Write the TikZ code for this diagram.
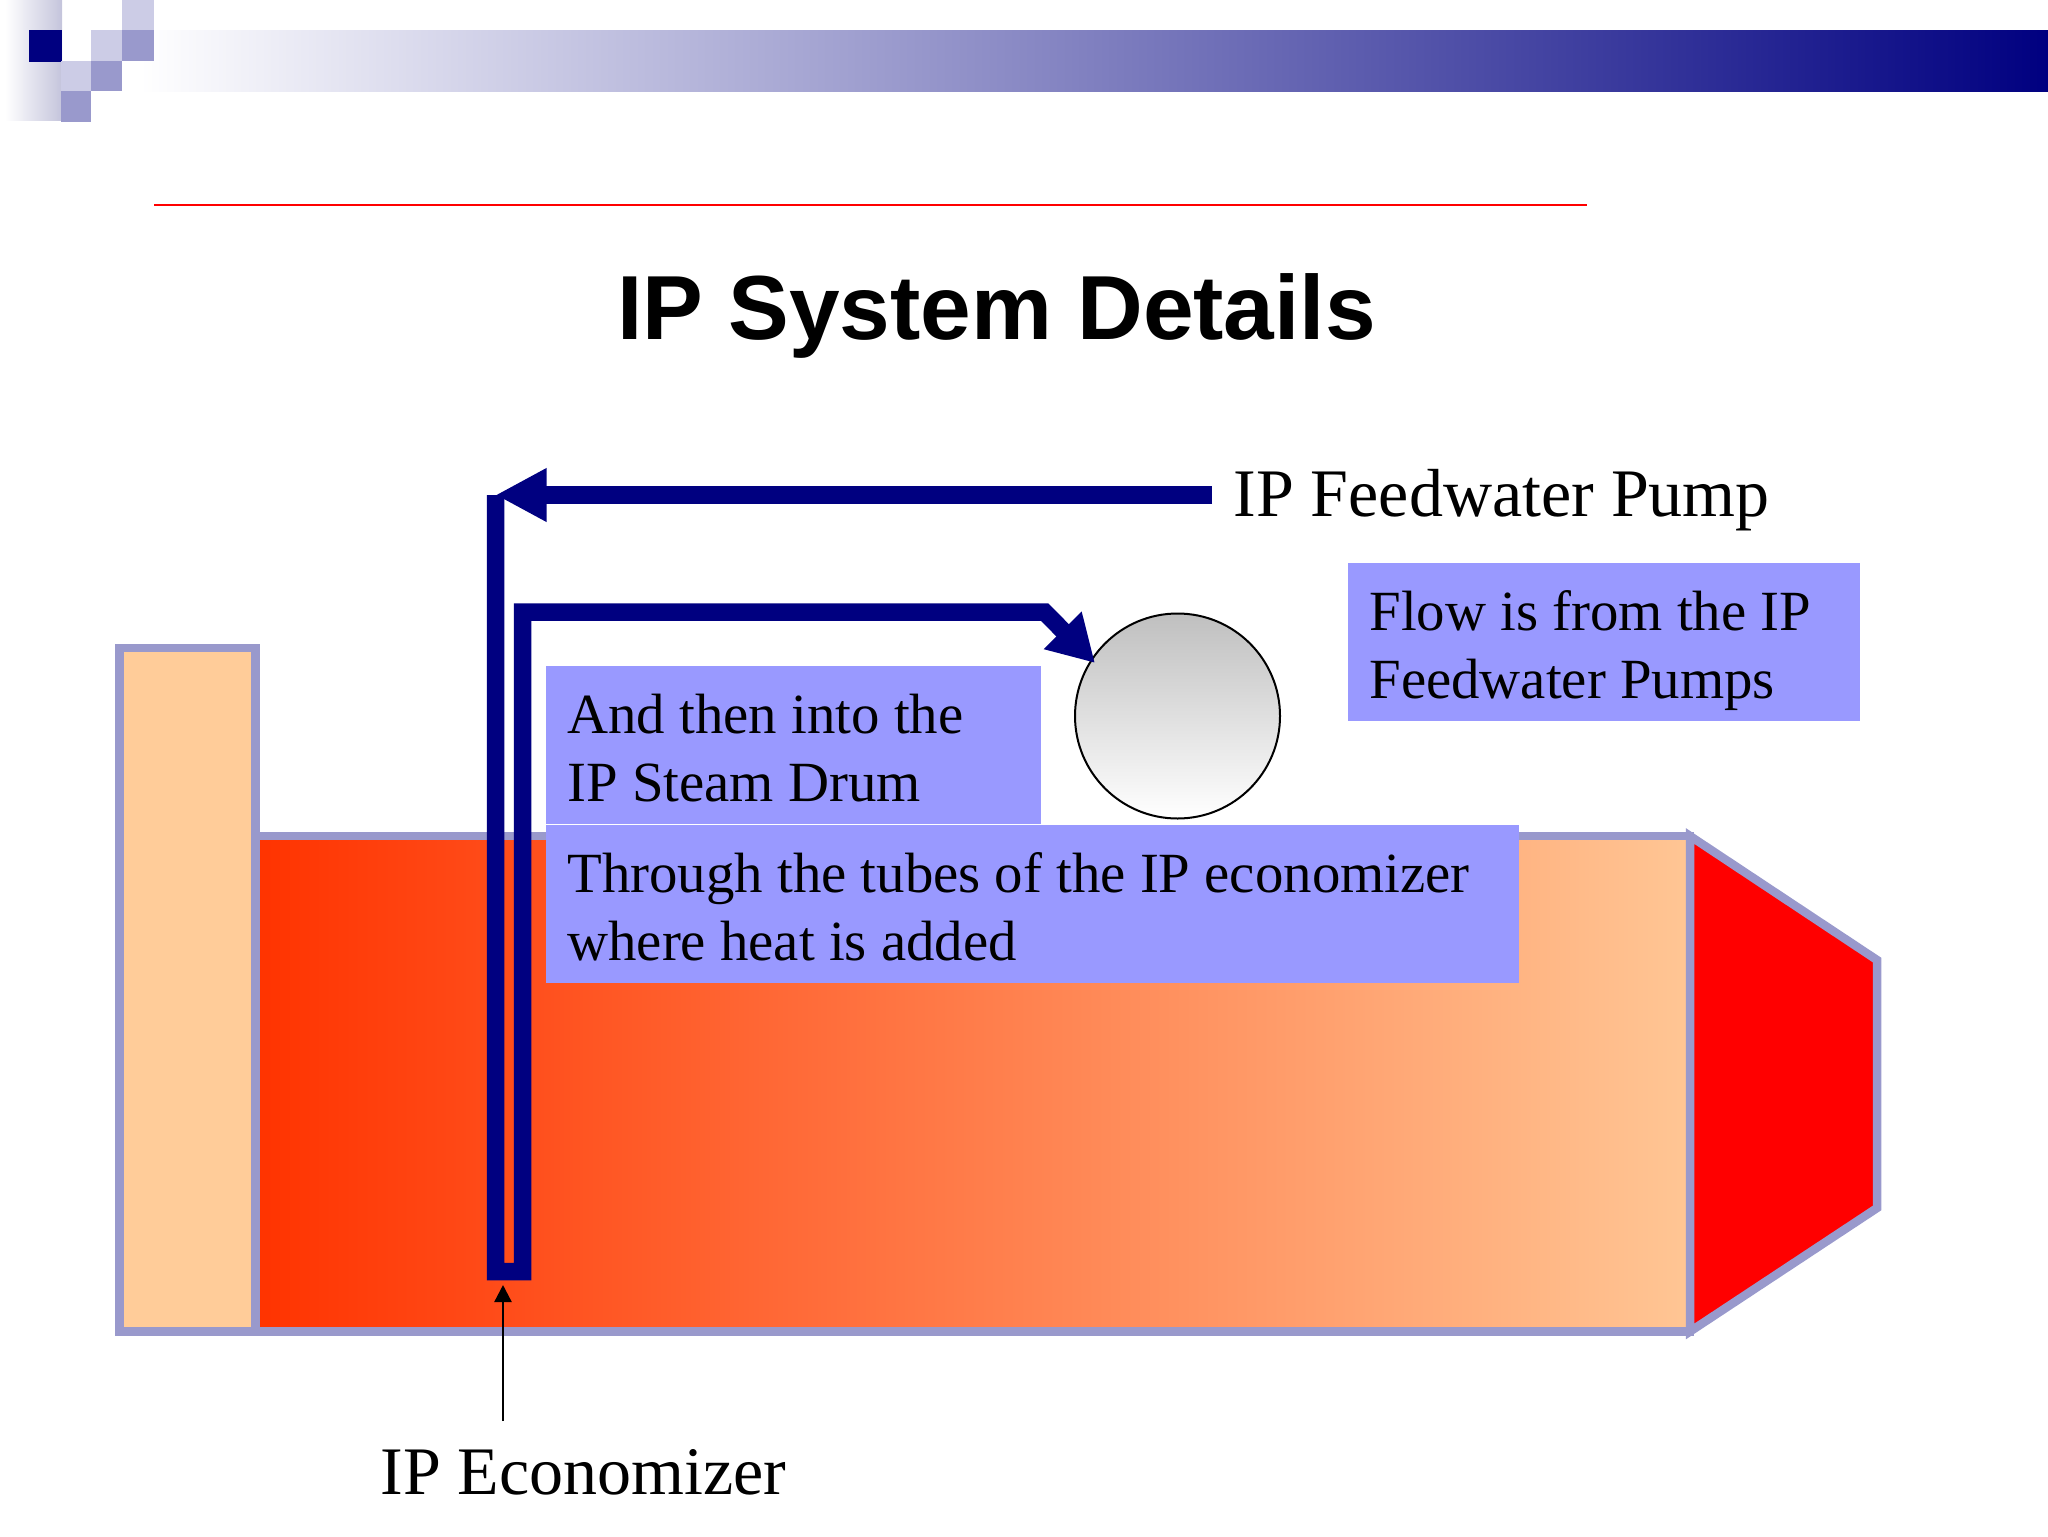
\documentclass[tikz,border=0pt]{standalone}
\usepackage{fontspec}
\setmainfont{Liberation Serif}
\setsansfont{Liberation Sans}
\usetikzlibrary{arrows.meta,shapes.geometric}
\definecolor{navyc}{HTML}{000080}
\definecolor{lav}{HTML}{CCCCE6}
\definecolor{lavd}{HTML}{9999CC}
\definecolor{boxc}{HTML}{9999FF}
\definecolor{peach}{HTML}{FFCC99}
\definecolor{hot}{HTML}{FF3300}
\newcommand{\boxtext}[2]{\spaceskip=0pt\xspaceskip=0pt\rule{0pt}{33.5pt}#1\\#2\rule[-11.5pt]{0pt}{11.5pt}}
\tikzset{
  sq/.style={fill=#1,draw=none},
  casing/.style={draw=lavd,line width=4.25pt,line join=miter,miter limit=10},
  pipe/.style={draw=navyc,line width=8.75pt,line join=miter,miter limit=10},
  infobox/.style={fill=boxc,inner xsep=10.5pt,inner ysep=0pt,align=left,font=\fontsize{28.4}{34}\selectfont,anchor=north west},
  biglabel/.style={font=\fontsize{34}{40}\selectfont,text depth=0pt,text height=21.5pt,inner xsep=10.5pt,inner ysep=0pt},
}
\begin{document}
\begin{tikzpicture}[x=0.5pt,y=-0.5pt]
\useasboundingbox (0,0) rectangle (2048,1536);
% header
\shade[left color=white,right color=navyc] (140,31) rectangle (2048,92);
\shade[left color=white,right color=lav!90!gray] (5,0) rectangle (62,120);
\fill[sq=navyc] (29,30) rectangle (62,62);
\fill[sq=lav] (91,30) rectangle (122,61);
\fill[sq=lavd] (122,30) rectangle (154,61);
\fill[sq=lav] (122,0) rectangle (154,30);
\fill[sq=lav] (61,61) rectangle (91,91);
\fill[sq=lavd] (91,61) rectangle (122,91);
\fill[sq=lavd] (61,91) rectangle (91,122);
\draw[red,line width=1pt] (154,205) -- (1587,205);
\node[anchor=base,inner sep=0pt,font=\sffamily\bfseries\fontsize{45.5}{50}\selectfont] (title) at (996.5,339) {IP System Details};
% boiler
\draw[casing,fill=peach] (119.5,648) rectangle (255.5,1331.5);
\draw[casing,left color=hot,right color=peach!97!red] (255.5,836) rectangle (1690,1331.5);
\draw[casing,fill=red] (1690,836) -- (1877,960) -- (1877,1208) -- (1690,1331.5) -- cycle;
% drum
\node[circle,draw=black,line width=1pt,inner sep=0pt,top color=black!25,bottom color=white,minimum size=102.5pt] (drum) at (1177.5,716) {};
% labels
\node[biglabel,anchor=west] (pump) at (1212,495) {IP Feedwater Pump};
\node[anchor=base west,inner sep=0pt,font=\fontsize{34}{40}\selectfont] (eco) at (380,1494) {IP Economizer};
% pipes
\coordinate (pipeTop) at (495.5,495);
\coordinate (drumIn) at (1095,663);
\coordinate (ecoFrom) at (503,1421);
\coordinate (ecoTip) at (503,1285);
\draw[pipe,-{Triangle[length=25.5pt,width=25pt]}] (pump.west) -- (pipeTop);
\draw[pipe,-{Triangle[length=23pt,width=25pt]}] (pipeTop) -- (495.5,1271.5) -- (522.5,1271.5) -- (522.5,612) -- (1044.5,612) -- (drumIn);
\draw[black,line width=1.2pt,-{Triangle[length=8.5pt,width=8.5pt]}] (ecoFrom) -- (ecoTip);
% info boxes
\node[infobox,minimum width=256pt,text width=235pt] (flow) at (1348,563) {\boxtext{Flow is from the IP}{Feedwater Pumps}};
\node[infobox,minimum width=247.5pt,text width=226.5pt] (steam) at (546,666) {\boxtext{And then into the}{IP Steam Drum}};
\node[infobox,minimum width=486.5pt,text width=465.5pt] (tubes) at (546,825) {\boxtext{Through the tubes of the IP economizer}{where heat is added}};
\end{tikzpicture}
\end{document}
